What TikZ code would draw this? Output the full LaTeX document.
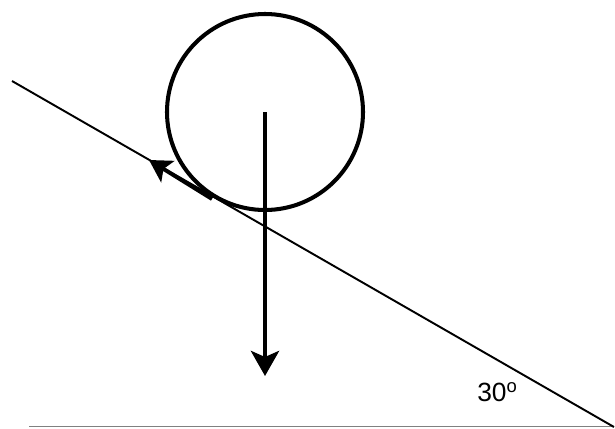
\documentclass[tikz,border=0pt]{standalone}
\usepackage{fontspec}
\setmainfont{Liberation Sans}
\usetikzlibrary{arrows.meta}

\begin{document}
\begin{tikzpicture}
    \useasboundingbox (0,0) rectangle (12.3,8.56);

    % Ground and incline
    \draw[gray, line width=0.6pt] (0.58,0.03) -- (12.28,0.03);
    \draw[line width=1.1pt] (0.24,6.94) -- (12.28,0.02);

    % Ball
    \coordinate (c) at (5.3,6.32);
    \draw[line width=2.3pt] (c) circle (1.96);

    % Weight
    \coordinate (w) at (5.3,1.04);
    \draw[line width=2.7pt, -{Stealth[length=0.5cm, width=0.56cm, inset=0.12cm]}] (c) -- (w);

    % Friction along the slope
    \coordinate (f0) at (4.24,4.58);
    \coordinate (f1) at (2.98,5.36);
    \draw[line width=2.2pt, -{Stealth[length=0.44cm, width=0.5cm, inset=0.1cm]}] (f0) -- (f1);

    % Angle
    \node (ang) at (9.95,0.72) {\fontsize{15}{18}\selectfont 30$^{\mathrm{o}}$};
\end{tikzpicture}
\end{document}
